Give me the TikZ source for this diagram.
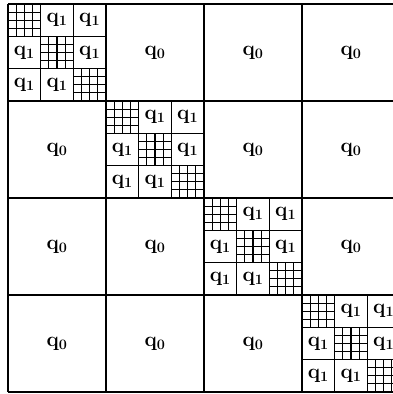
\documentclass[tikz,border=0pt]{standalone}
\begin{document}
\begin{tikzpicture}[x=1pt,y=-1pt,line width=1.5pt,
  lab/.style={font=\fontsize{20}{22}\selectfont\boldmath,inner sep=0pt},
  hatch/.style={line width=1.1pt}]
\useasboundingbox (0,0) rectangle (393,394);
\begin{scope}
\clip (0,0) rectangle (393,394);
\def\W{98}\def\H{97}\def\X{8}\def\Y{4}
% big grid
\foreach \i in {0,...,4}{
  \draw (\X+\W*\i,\Y) -- (\X+\W*\i,\Y+4*\H);
  \draw (\X,\Y+\H*\i) -- (\X+4*\W,\Y+\H*\i);
}
% blocks
\foreach \r in {0,...,3}{
  \foreach \c in {0,...,3}{
    \pgfmathsetmacro\bx{\X+\W*\c}
    \pgfmathsetmacro\by{\Y+\H*\r}
    \ifnum\r=\c
      % 3x3 subdivision
      \foreach \k in {1,2}{
        \draw (\bx+\W*\k/3,\by) -- (\bx+\W*\k/3,\by+\H);
        \draw (\bx,\by+\H*\k/3) -- (\bx+\W,\by+\H*\k/3);
      }
      \foreach \i in {0,1,2}{
        \foreach \j in {0,1,2}{
          \pgfmathsetmacro\sx{\bx+\W*\j/3}
          \pgfmathsetmacro\sy{\by+\H*\i/3}
          \ifnum\i=\j
            \foreach \m in {1,2,3}{
              \draw[hatch] (\sx+\W*\m/12,\sy) -- (\sx+\W*\m/12,\sy+\H/3);
              \draw[hatch] (\sx,\sy+\H*\m/12) -- (\sx+\W/3,\sy+\H*\m/12);
            }
          \else
            \node[lab] (s\r\i\j) at (\sx+\W/6,\sy+\H/6) {$\mathbf{q}_1$};
          \fi
        }
      }
    \else
      \node[lab] (b\r\c) at (\bx+\W/2,\by+\H/2) {$\mathbf{q}_0$};
    \fi
  }
}
\end{scope}
\end{tikzpicture}
\end{document}
